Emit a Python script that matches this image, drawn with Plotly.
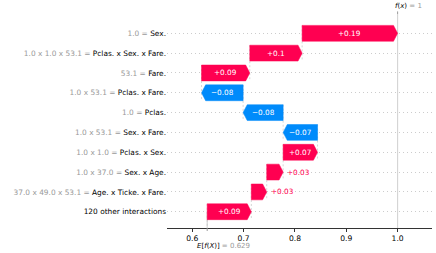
import plotly.graph_objects as go

# ---- data ----
features = ["Sex.", "Pclas. x Sex. x Fare.", "Fare.", "Pclas. x Fare.", "Pclas.",
            "Sex. x Fare.", "Pclas. x Sex.", "Sex. x Age.", "Age. x Ticke. x Fare.",
            "120 other interactions"]
feature_values = ["1.0", "1.0 x 1.0 x 53.1", "53.1", "1.0 x 53.1", "1.0",
                  "1.0 x 53.1", "1.0 x 1.0", "1.0 x 37.0", "37.0 x 49.0 x 53.1", ""]
shap_values = [0.186, 0.102, 0.094, -0.081, -0.078, -0.067, 0.067, 0.032, 0.030, 0.086]
base_value = 0.629
x_tick_values = [0.6, 0.7, 0.8, 0.9, 1.0]
x_tick_labels = ["0.6", "0.7", "0.8", "0.9", "1.0"]

RED = "#ff0051"
BLUE = "#008bfb"
GRAY = "#bbbbbb"
FONT = "DejaVu Sans"

n = len(features)
starts = [0.0] * n
ends = [0.0] * n
cum = base_value
for i in reversed(range(n)):
    starts[i] = cum
    cum += shap_values[i]
    ends[i] = cum
fx = cum
ypos = [n - 1 - i for i in range(n)]
H = 0.8
HEAD = 0.008
YR = [-0.82, n - 1 + 0.974]


def fmt(v):
    s = f"{abs(v):.2f}".rstrip("0").rstrip(".")
    return ("+" if v >= 0 else "\u2212") + s


def fmt_plain(v):
    return f"{v:.3f}".rstrip("0").rstrip(".")


fig = go.Figure()

# connector dashed lines
for i in range(n):
    fig.add_trace(go.Scatter(x=[starts[i], starts[i]], y=[ypos[i] + H / 2, ypos[i] - 1 - H / 2],
                             mode="lines", line=dict(color=GRAY, width=0.6, dash="2px,2px"),
                             hoverinfo="skip", showlegend=False))
# f(x) line and base line
fig.add_trace(go.Scatter(x=[fx, fx], y=[YR[0], YR[1]], mode="lines",
                         line=dict(color=GRAY, width=0.7), hoverinfo="skip", showlegend=False))
fig.add_trace(go.Scatter(x=[base_value, base_value], y=[YR[0], ypos[-1]], mode="lines",
                         line=dict(color=GRAY, width=0.7), hoverinfo="skip", showlegend=False))

annotations = []
for i in range(n):
    s, e, y = starts[i], ends[i], ypos[i]
    w = abs(e - s)
    hl = min(HEAD, w)
    if e >= s:
        xs = [s, e - hl, e, e - hl, s, s]
        col = RED
    else:
        xs = [s, e + hl, e, e + hl, s, s]
        col = BLUE
    ys = [y - H / 2, y - H / 2, y, y + H / 2, y + H / 2, y - H / 2]
    fig.add_trace(go.Scatter(x=xs, y=ys, mode="lines", fill="toself", fillcolor=col,
                             line=dict(color=col, width=0.5), hoverinfo="skip", showlegend=False))
    if w > 0.05:
        annotations.append(dict(x=(s + e) / 2, y=y, xref="x", yref="y", text=fmt(shap_values[i]),
                                showarrow=False, font=dict(family=FONT, size=7.3, color="white"),
                                xanchor="center", yanchor="middle"))
    else:
        annotations.append(dict(x=e, y=y, xref="x", yref="y", text=fmt(shap_values[i]),
                                showarrow=False, font=dict(family=FONT, size=7.3, color=col),
                                xanchor="left" if e >= s else "right", yanchor="middle",
                                xshift=2 if e >= s else -2))

annotations.append(dict(x=fx, y=1, xref="x", yref="paper", yanchor="bottom", xanchor="left",
                        xshift=-5, yshift=2, showarrow=False,
                        text=f"<i>f</i>(<i>x</i>)<span style='color:#999999'> = {fmt_plain(fx)}</span>",
                        font=dict(family=FONT, size=7, color="black")))
annotations.append(dict(x=base_value, y=0, xref="x", yref="paper", yanchor="top", xanchor="left",
                        xshift=-12, yshift=-12, showarrow=False,
                        text=f"<i>E</i>[<i>f</i>(<i>X</i>)]<span style='color:#999999'> = {fmt_plain(base_value)}</span>",
                        font=dict(family=FONT, size=7, color="black")))

shapes = [
    dict(type="line", x0=fx, x1=fx, y0=1, y1=1.012, xref="x", yref="paper", line=dict(color="#999999", width=1)),
    dict(type="line", x0=base_value, x1=base_value, y0=0, y1=-0.014, xref="x", yref="paper", line=dict(color="#999999", width=1)),
]

ticktext = []
for name, fv in zip(features, feature_values):
    if fv:
        ticktext.append(f"<span style='color:#999999'>{fv} = </span>{name}")
    else:
        ticktext.append(name)

fig.update_layout(
    width=436, height=253, autosize=False,
    margin=dict(l=167, r=4, t=14, b=25),
    paper_bgcolor="white", plot_bgcolor="white",
    font=dict(family=FONT, size=7, color="black"),
    annotations=annotations, shapes=shapes,
    xaxis=dict(range=[0.5507, 1.067], tickvals=x_tick_values, ticktext=x_tick_labels,
               showline=True, linecolor="#333333", linewidth=1, ticks="outside", ticklen=3,
               tickcolor="#333333", showgrid=False, zeroline=False,
               tickfont=dict(family=FONT, size=7.6, color="black")),
    yaxis=dict(range=YR, tickvals=ypos, ticktext=ticktext, showgrid=True, griddash="1px,3px",
               gridcolor="#cccccc", gridwidth=0.6, zeroline=False, showline=False, ticks="",
               automargin=False,
               tickfont=dict(family=FONT, size=7.4, color="black")),
)

fig.write_html("out.html", config={"displayModeBar": False},
               post_script="document.body.style.margin='0px';")
